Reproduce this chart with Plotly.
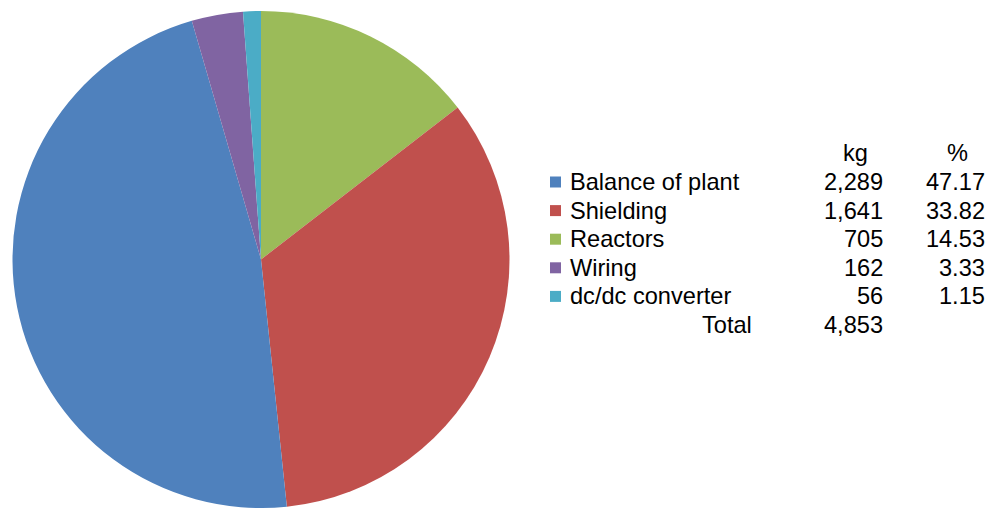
import plotly.graph_objects as go

# Data (legend / table order)
labels = ["Balance of plant", "Shielding", "Reactors", "Wiring", "dc/dc converter"]
kg = [2289, 1641, 705, 162, 56]
pct = ["47.17", "33.82", "14.53", "3.33", "1.15"]
total_kg = 4853
colors = ["#4F81BD", "#C0504D", "#9BBB59", "#8064A2", "#4BACC6"]
# clockwise order of slices starting at 12 o'clock
pie_order = [2, 1, 0, 3, 4]

W, H = 990, 508

fig = go.Figure(go.Pie(
    labels=[labels[i] for i in pie_order],
    values=[kg[i] for i in pie_order],
    marker=dict(colors=[colors[i] for i in pie_order], line=dict(width=0)),
    sort=False,
    direction="clockwise",
    rotation=0,
    textinfo="none",
    hoverinfo="label+value+percent",
    showlegend=False,
    domain=dict(x=[(261 - 249.5) / W, (261 + 249.5) / W], y=[0, (H - 11) / H]),
))

font = dict(family="Liberation Sans, Arial, sans-serif", size=23.6, color="#000000")
row_y0 = 182
row_dy = 28.6

def px(x):
    return x / W

def py(y):
    return 1 - y / H

ann = []
# headers
ann.append(dict(x=px(855), y=py(153), text="kg", xanchor="center", yanchor="middle"))
ann.append(dict(x=px(957), y=py(153), text="%", xanchor="center", yanchor="middle"))
shapes = []
for i, lab in enumerate(labels):
    y = row_y0 + i * row_dy
    ann.append(dict(x=px(568), y=py(y), text=lab, xanchor="left", yanchor="middle"))
    ann.append(dict(x=px(885), y=py(y), text=f"{kg[i]:,}", xanchor="right", yanchor="middle"))
    ann.append(dict(x=px(987), y=py(y), text=pct[i], xanchor="right", yanchor="middle"))
    shapes.append(dict(type="rect", xref="paper", yref="paper",
                       x0=px(550), x1=px(561), y0=py(y - 5.5), y1=py(y + 5.5),
                       fillcolor=colors[i], line=dict(width=0)))
y = row_y0 + len(labels) * row_dy
ann.append(dict(x=px(754), y=py(y), text="Total", xanchor="right", yanchor="middle"))
ann.append(dict(x=px(885), y=py(y), text=f"{total_kg:,}", xanchor="right", yanchor="middle"))

for a in ann:
    a.update(xref="paper", yref="paper", showarrow=False, font=font)

fig.update_layout(
    width=W, height=H,
    margin=dict(l=0, r=0, t=0, b=0),
    paper_bgcolor="white", plot_bgcolor="white",
    annotations=ann, shapes=shapes,
)

fig.write_html("out.html", config={"displayModeBar": False},
               post_script="document.body.style.margin='0';document.body.style.overflow='hidden';")
